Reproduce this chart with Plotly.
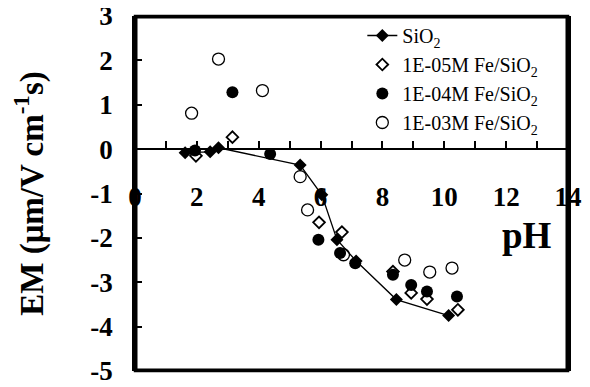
import plotly.graph_objects as go

# ---- data ----
sio2_ph = [1.62, 2.43, 2.70, 5.34, 6.04, 6.53, 7.15, 8.45, 10.14]
sio2_em = [-0.08, -0.06, 0.03, -0.36, -1.03, -2.04, -2.52, -3.39, -3.75]

fe5_ph = [1.97, 3.15, 5.95, 6.69, 8.34, 8.93, 9.44, 10.44]
fe5_em = [-0.15, 0.27, -1.65, -1.87, -2.76, -3.24, -3.38, -3.62]

fe4_ph = [1.94, 3.15, 4.37, 5.93, 6.63, 7.12, 8.34, 8.93, 9.44, 10.41]
fe4_em = [-0.03, 1.28, -0.11, -2.04, -2.34, -2.57, -2.83, -3.06, -3.21, -3.32]

fe3_ph = [1.83, 2.70, 4.12, 5.34, 5.58, 6.74, 8.72, 9.53, 10.25]
fe3_em = [0.81, 2.03, 1.32, -0.62, -1.37, -2.38, -2.50, -2.77, -2.68]

x_range = [0, 14]
y_range = [-5, 3]
x_tickvals = list(range(0, 15))
x_ticktext = ["0", "", "2", "", "4", "", "6", "", "8", "", "10", "", "12", "", "14"]
y_tickvals = [3, 2, 1, 0, -1, -2, -3, -4, -5]
y_ticktext = ["3", "2", "1", "0", "-1", "-2", "-3", "-4", "-5"]

names = ["SiO<sub>2</sub>", "1E-05M Fe/SiO<sub>2</sub>",
         "1E-04M Fe/SiO<sub>2</sub>", "1E-03M Fe/SiO<sub>2</sub>"]

SERIF = "Liberation Serif, Times New Roman, serif"

fig = go.Figure()
# plot frame, following the axis ranges (half of the line is clipped at the edge)
fig.add_trace(go.Scatter(
    x=[x_range[0], x_range[1], x_range[1], x_range[0], x_range[0]],
    y=[y_range[0], y_range[0], y_range[1], y_range[1], y_range[0]],
    mode="lines", line=dict(color="black", width=5), hoverinfo="skip",
    showlegend=False))
fig.add_trace(go.Scatter(
    x=fe3_ph, y=fe3_em, mode="markers", name=names[3], legendrank=4,
    legendgroup="d",
    marker=dict(symbol="circle", size=12, color="white",
                line=dict(color="black", width=1.3))))
fig.add_trace(go.Scatter(
    x=fe5_ph, y=fe5_em, mode="markers", name=names[1], legendrank=2,
    legendgroup="b",
    marker=dict(symbol="diamond", size=9, color="white",
                line=dict(color="black", width=1.8))))
fig.add_trace(go.Scatter(
    x=fe4_ph, y=fe4_em, mode="markers", name=names[2], legendrank=3,
    legendgroup="c",
    marker=dict(symbol="circle", size=12, color="black",
                line=dict(color="black", width=0))))
fig.add_trace(go.Scatter(
    x=sio2_ph, y=sio2_em, mode="lines+markers", name=names[0], legendrank=1,
    legendgroup="a",
    line=dict(color="black", width=1.3),
    marker=dict(symbol="diamond", size=10, color="black",
                line=dict(color="black", width=0))))

fig.add_annotation(x=12.67, y=-1.95, xref="x", yref="y", text="<b>pH</b>",
                   showarrow=False, font=dict(family=SERIF, size=37, color="black"))

fig.add_shape(type="rect", xref="paper", yref="paper", x0=0, y0=0, x1=1, y1=1,
              line=dict(color="black", width=2.5), layer="above")

bold_font = dict(family=SERIF, size=27, color="black", weight="bold")

fig.update_layout(
    template="none",
    width=590, height=387,
    margin=dict(l=127, r=30, t=8, b=24),
    paper_bgcolor="white", plot_bgcolor="white",
    font=dict(family=SERIF, color="black"),
    showlegend=True,
    legend=dict(x=0.525, y=1.0, xanchor="left", yanchor="top",
                bgcolor="rgba(0,0,0,0)", font=dict(family=SERIF, size=20, color="black"),
                traceorder="grouped", tracegroupgap=0, itemwidth=30, borderwidth=0),
    xaxis=dict(range=x_range, anchor="free", position=0.625, automargin=False,
               showline=True, linecolor="black", linewidth=1.5,
               showgrid=False, zeroline=False,
               tickmode="array", tickvals=x_tickvals, ticktext=x_ticktext,
               ticks="inside", ticklen=7, tickwidth=1.5, tickcolor="black",
               tickfont=bold_font, ticklabelstandoff=24),
    yaxis=dict(range=y_range, automargin=False, showline=True, mirror=True,
               linecolor="black", linewidth=2.5,
               showgrid=False, zeroline=False,
               tickmode="array", tickvals=y_tickvals, ticktext=y_ticktext,
               ticks="inside", ticklen=7, tickwidth=1.5, tickcolor="black",
               tickfont=bold_font, ticklabelstandoff=14, ticklabeloverflow="allow",
               title=dict(text="<b>EM (μm/V cm<sup>-1</sup>s)</b>",
                          font=dict(family=SERIF, size=33, color="black"), standoff=38)),
)

fig.write_html("out.html")
